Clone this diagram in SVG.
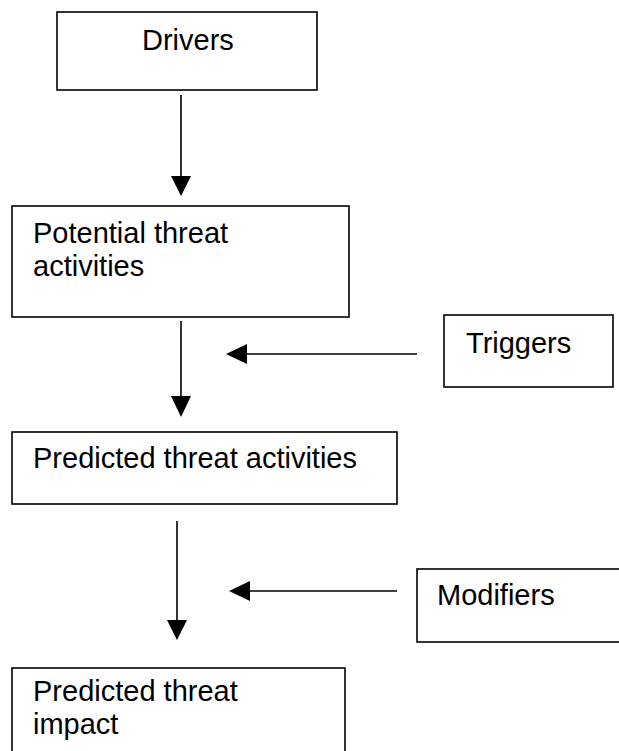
<svg xmlns="http://www.w3.org/2000/svg" width="619" height="751" viewBox="0 0 619 751">
<defs>
<style>
.box{fill:#fff;stroke:#000;stroke-width:1.6}
.lbl{font-family:"Liberation Sans",Arial,sans-serif;font-size:29px;fill:#000}
.ln{stroke:#000;stroke-width:1.6;fill:none}
.hd{fill:#000;stroke:none}
</style>
</defs>
<rect width="619" height="751" fill="#fff"/>
<g id="drivers">
<rect class="box" x="57" y="12" width="260" height="78"/>
<text class="lbl" x="142" y="50">Drivers</text>
</g>
<g id="potential">
<rect class="box" x="12" y="206" width="337" height="111"/>
<text class="lbl" x="33" y="243">Potential threat</text>
<text class="lbl" x="33" y="276">activities</text>
</g>
<g id="triggers">
<rect class="box" x="444" y="315" width="169" height="72"/>
<text class="lbl" x="466" y="353">Triggers</text>
</g>
<g id="predicted-activities">
<rect class="box" x="12" y="432" width="385" height="72"/>
<text class="lbl" x="33" y="468">Predicted threat activities</text>
</g>
<g id="modifiers">
<rect class="box" x="417" y="569" width="210" height="73"/>
<text class="lbl" x="437" y="605">Modifiers</text>
</g>
<g id="predicted-impact">
<rect class="box" x="12" y="668" width="333" height="95"/>
<text class="lbl" x="33" y="701">Predicted threat</text>
<text class="lbl" x="33" y="734">impact</text>
</g>
<g id="connectors">
<line class="ln" x1="181" y1="95" x2="181" y2="180"/>
<polygon class="hd" points="171,176 191,176 181,196"/>
<line class="ln" x1="181" y1="321" x2="181" y2="400"/>
<polygon class="hd" points="171,396 191,396 181,417"/>
<line class="ln" x1="417" y1="354" x2="242" y2="354"/>
<polygon class="hd" points="247,344 247,364 226,354"/>
<line class="ln" x1="177" y1="521" x2="177" y2="624"/>
<polygon class="hd" points="167,620 187,620 177,640"/>
<line class="ln" x1="397" y1="591" x2="245" y2="591"/>
<polygon class="hd" points="250,581 250,601 229,591"/>
</g>
</svg>
